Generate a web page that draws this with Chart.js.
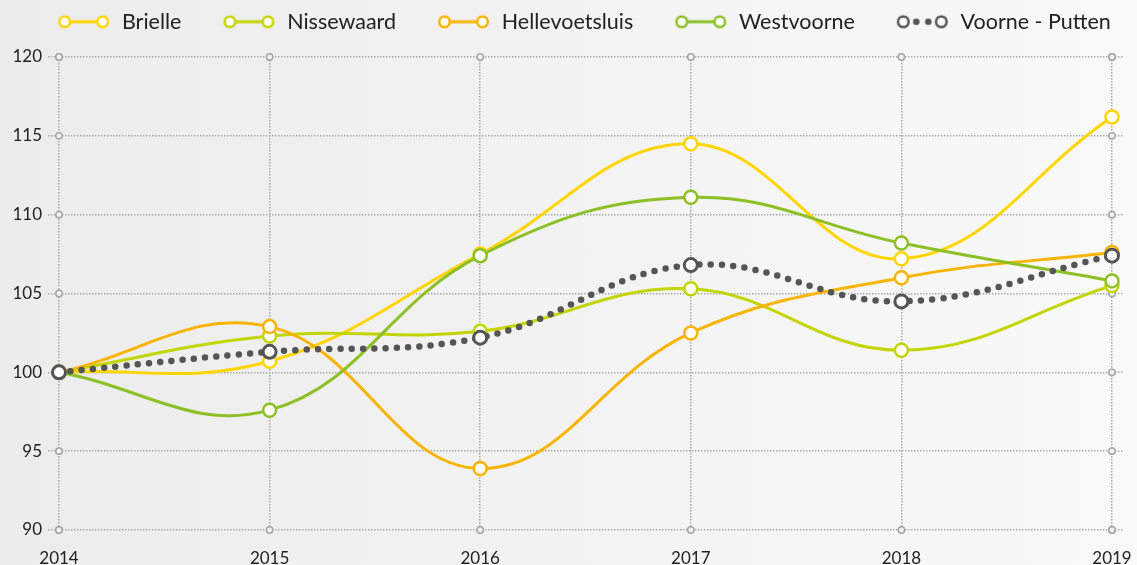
<!DOCTYPE html>
<html lang="nl">
<head>
<meta charset="UTF-8">
<title>Index Voorne-Putten</title>
<script src="https://cdn.jsdelivr.net/npm/chart.js"></script>
<style>
    html, body { margin: 0; padding: 0; }
    body {
        width: 1137px;
        height: 565px;
        overflow: hidden;
        background: linear-gradient(to right, #ececec, #f9f9f9);
    }
    .chart-container { position: relative; width: 1137px; height: 565px; }
</style>
</head>
<body>
<div class="chart-container">
    <canvas id="indexChart"></canvas>
</div>
<script>
    const years = ['2014', '2015', '2016', '2017', '2018', '2019'];
    const brielle = [100, 100.7, 107.5, 114.5, 107.2, 116.2];
    const nissewaard = [100, 102.3, 102.6, 105.3, 101.4, 105.5];
    const hellevoetsluis = [100, 102.9, 93.9, 102.5, 106.0, 107.6];
    const westvoorne = [100, 97.6, 107.4, 111.1, 108.2, 105.8];
    const voornePutten = [100, 101.3, 102.2, 106.8, 104.5, 107.4];
    const yTicks = [90, 95, 100, 105, 110, 115, 120];

    const gridColor = '#a6a6a6';
    const gridDash = [1.4, 1.6];

    // legend icon: circle - line - circle (dots for the total), with empty room on the left
    const ICON_W = 85, ICON_LEFT = 32;
    function legendIcon(color, dotted) {
        const c = document.createElement('canvas');
        c.width = ICON_W;
        c.height = 20;
        const g = c.getContext('2d');
        const x1 = ICON_LEFT + 6.5, x2 = ICON_LEFT + 51 - 6.5, y = 10;
        g.strokeStyle = color;
        g.fillStyle = color;
        if (dotted) {
            [x1 + 13, x1 + 25].forEach(x => { g.beginPath(); g.arc(x, y, 3.3, 0, Math.PI * 2); g.fill(); });
        } else {
            g.lineWidth = 3;
            g.beginPath(); g.moveTo(x1, y); g.lineTo(x2, y); g.stroke();
        }
        [x1, x2].forEach(x => {
            g.beginPath();
            g.arc(x, y, 5.3, 0, Math.PI * 2);
            g.fillStyle = '#fff';
            g.fill();
            g.lineWidth = 2.5;
            g.stroke();
        });
        return c;
    }

    const series = [
        { label: 'Brielle', data: brielle, color: '#ffd500' },
        { label: 'Nissewaard', data: nissewaard, color: '#c4d400' },
        { label: 'Hellevoetsluis', data: hellevoetsluis, color: '#f8b400' },
        { label: 'Westvoorne', data: westvoorne, color: '#8cc026' },
        { label: 'Voorne - Putten', data: voornePutten, color: '#555555', dotted: true }
    ];
    const icons = series.map(s => legendIcon(s.color, s.dotted));

    const datasets = series.map((s, i) => ({
        label: s.label,
        data: s.data,
        order: series.length - 1 - i,
        borderColor: s.color,
        backgroundColor: s.color,
        borderWidth: s.dotted ? 6.5 : 3,
        borderDash: s.dotted ? [0, 11.3] : [],
        borderCapStyle: s.dotted ? 'round' : 'butt',
        tension: 0.4,
        fill: false,
        pointRadius: 6.5,
        pointBorderWidth: s.dotted ? 3 : 2.5,
        pointBackgroundColor: '#ffffff',
        pointBorderColor: s.color,
        pointHoverRadius: 6.5
    }));

    // rings where grid lines meet the edge of the plot, and short stubs on the right
    const gridDecor = {
        id: 'gridDecor',
        beforeDatasetsDraw(chart) {
            const { ctx, chartArea: a, scales: { x, y } } = chart;
            ctx.save();
            ctx.strokeStyle = gridColor;
            ctx.lineWidth = 1.5;
            ctx.setLineDash(gridDash);
            yTicks.forEach(v => {
                const py = y.getPixelForValue(v);
                ctx.beginPath(); ctx.moveTo(a.right, py); ctx.lineTo(a.right + 11, py); ctx.stroke();
            });
            ctx.setLineDash([]);
            ctx.fillStyle = '#f2f2f2';
            const ring = (px, py) => {
                ctx.beginPath();
                ctx.arc(px, py, 3.2, 0, Math.PI * 2);
                ctx.fill();
                ctx.stroke();
            };
            yTicks.forEach(v => {
                const py = y.getPixelForValue(v);
                ring(a.left, py);
                ring(a.right, py);
            });
            years.forEach((_, i) => {
                const px = x.getPixelForValue(i);
                ring(px, a.top);
                ring(px, a.bottom);
            });
            ctx.restore();
        }
    };

    // extra room under the legend
    const legendSpace = {
        id: 'legendSpace',
        beforeInit(chart) {
            const fit = chart.legend.fit;
            chart.legend.fit = function () {
                fit.bind(chart.legend)();
                this.height += 14.5;
            };
        }
    };

    Chart.defaults.font.family = 'Lato, "Open Sans", sans-serif';
    Chart.defaults.color = '#222';

    const ctx = document.getElementById('indexChart').getContext('2d');
    new Chart(ctx, {
        type: 'line',
        data: { labels: years, datasets: datasets },
        options: {
            responsive: true,
            maintainAspectRatio: false,
            animation: false,
            layout: { padding: { top: 1, right: 0, bottom: 0, left: 0 } },
            plugins: {
                tooltip: { enabled: false },
                legend: {
                    position: 'top',
                    labels: {
                        usePointStyle: true,
                        pointStyleWidth: ICON_W,
                        padding: 10,
                        color: '#222',
                        font: { size: 21.5 },
                        sort: (a, b) => a.datasetIndex - b.datasetIndex,
                        generateLabels(chart) {
                            const items = Chart.defaults.plugins.legend.labels.generateLabels(chart);
                            items.forEach(it => { it.pointStyle = icons[it.datasetIndex]; });
                            return items;
                        }
                    }
                }
            },
            scales: {
                x: {
                    grid: { color: gridColor, lineWidth: 1.5, drawTicks: false },
                    border: { display: false, dash: gridDash },
                    ticks: { padding: 18, font: { size: 17 }, color: '#222', maxRotation: 0 },
                    afterFit(scale) {
                        scale.height = 35;
                        scale.paddingLeft = 0;
                        scale.paddingRight = 25;
                    }
                },
                y: {
                    min: 90,
                    max: 120,
                    grid: {
                        color: gridColor,
                        lineWidth: 1.5,
                        tickLength: 11,
                        tickColor: gridColor,
                        tickBorderDash: gridDash
                    },
                    border: { display: false, dash: gridDash },
                    ticks: { stepSize: 5, padding: 6, font: { size: 17 }, color: '#222' },
                    afterFit(scale) { scale.width = 59; }
                }
            }
        },
        plugins: [gridDecor, legendSpace]
    });
</script>
</body>
</html>
